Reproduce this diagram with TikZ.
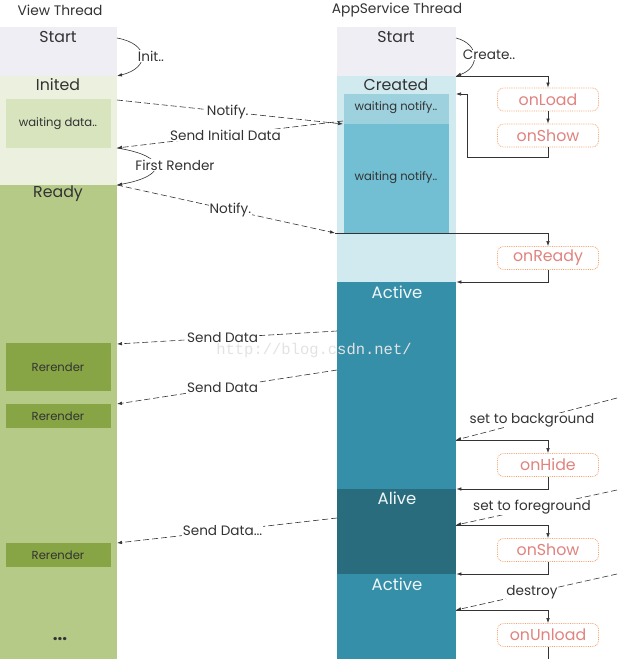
\documentclass[tikz,border=0pt]{standalone}
\usepackage{fontspec}
\setmainfont{Poppins}
\newfontfamily\wmfont{Liberation Mono}
\usetikzlibrary{arrows.meta}
\definecolor{cstart}{HTML}{EFEEF4}
\definecolor{cinited}{HTML}{EBF1DE}
\definecolor{cwaitdata}{HTML}{D7E4BD}
\definecolor{cready}{HTML}{B6CA88}
\definecolor{crerender}{HTML}{87A544}
\definecolor{ccreated}{HTML}{D1EAF0}
\definecolor{cwnA}{HTML}{9DD1DD}
\definecolor{cwnB}{HTML}{72BED2}
\definecolor{cactive}{HTML}{368FA8}
\definecolor{calive}{HTML}{296C7D}
\definecolor{cbord}{HTML}{F3A36C}
\definecolor{cbtext}{HTML}{E0837F}
\definecolor{cline}{HTML}{333333}
\definecolor{ctext}{HTML}{333333}
\begin{document}
\begin{tikzpicture}[x=1pt,y=-1pt,
  region/.style={draw=none,inner sep=0pt,anchor=north west},
  title/.style={text=ctext,font=\fontsize{13.8}{15}\selectfont},
  big/.style={text=ctext,font=\fontsize{15.8}{17}\selectfont},
  wbig/.style={text=white!92!cactive,font=\fontsize{16.5}{18}\selectfont},
  small/.style={text=ctext,font=\fontsize{11.6}{13}\selectfont},
  lbl/.style={text=ctext,font=\fontsize{13.6}{15}\selectfont,inner sep=0.5pt},
  wlbl/.style={lbl,fill=white},
  cb/.style={draw=cbord,densely dotted,line width=0.8pt,rounded corners=6pt,fill=white,
     minimum width=101pt,minimum height=23pt,inner sep=0pt,text=cbtext,font=\fontsize{15.8}{17}\selectfont},
  arr/.style={draw=cline,line width=0.6pt,-{Latex[length=5pt,width=3.5pt]}},
  ln/.style={draw=cline,line width=0.6pt},
  dsh/.style={arr,dash pattern=on 6pt off 3pt},
]
\useasboundingbox (0,0) rectangle (624,659);
\fill[white] (0,0) rectangle (624,659);

% ---- left column (View Thread)
\node[region,fill=cstart,minimum width=117pt,minimum height=49pt] (vstart) at (0,27) {};
\node[region,fill=cinited,minimum width=117pt,minimum height=109pt] (vinited) at (0,76) {};
\node[region,fill=cready,minimum width=117pt,minimum height=474pt] (vready) at (0,185) {};
\node[region,fill=cwaitdata,minimum width=105pt,minimum height=49pt] (vwait) at (6,99) {};
\node[region,fill=crerender,minimum width=105pt,minimum height=48pt] (rr1) at (6,343) {};
\node[region,fill=crerender,minimum width=105pt,minimum height=24pt] (rr2) at (6,404) {};
\node[region,fill=crerender,minimum width=105pt,minimum height=24pt] (rr3) at (6,543) {};

\node[title] (ttl1) at (60,10) {View Thread};
\node[big] (tstart1) at (58,37) {Start};
\node[big] (tinited) at (58,85) {Inited};
\node[small] (twait) at (58,124) {waiting data..};
\node[big] (tready) at (58,194) {Ready};
\node[small] (trr1) at (58,367) {Rerender};
\node[small] (trr2) at (58,416) {Rerender};
\node[small] (trr3) at (58,555) {Rerender};
\node[text=ctext,font=\fontsize{17}{18}\bfseries] (tdots) at (60,639) {...};

% ---- right column (AppService Thread)
\node[region,fill=cstart,minimum width=119pt,minimum height=49pt] (astart) at (337,27) {};
\node[region,fill=ccreated,minimum width=119pt,minimum height=206pt] (created) at (337,76) {};
\node[region,fill=cwnA,minimum width=105pt,minimum height=30pt] (wn1) at (344,94) {};
\node[region,fill=cwnB,minimum width=105pt,minimum height=109pt] (wn2) at (344,124) {};
\node[region,fill=cactive,minimum width=119pt,minimum height=208pt] (active) at (337,282) {};
\node[region,fill=calive,minimum width=119pt,minimum height=85pt] (alive) at (337,489) {};
\node[region,fill=cactive,minimum width=119pt,minimum height=86pt] (active2) at (337,574) {};

\node[title] (ttl2) at (397,10) {AppService Thread};
\node[big] (tstart2) at (396,37) {Start};
\node[big] (tcreated) at (396,85) {Created};
\node[small] (twn1) at (396,108) {waiting notify..};
\node[small] (twn2) at (396,178) {waiting notify..};
\node[wbig] (tactive) at (397,292) {Active};
\node[wbig] (talive) at (397,498) {Alive};
\node[wbig] (tactive2) at (397,584) {Active};

% ---- lifecycle callbacks
\node[cb] (onload) at (548,99.5) {onLoad};
\node[cb] (onshow) at (548,135.5) {onShow};
\node[cb] (onready) at (548,258) {onReady};
\node[cb] (onhide) at (548,465) {onHide};
\node[cb] (onshow2) at (548,550) {onShow};
\node[cb] (onunload) at (548,635) {onUnload};

% ---- watermark
\node[text=gray!22,font=\wmfont\fontsize{15.5}{17}\selectfont] (wm) at (314,350) {http://blog.csdn.net/};

% ---- coordinates for connector ends
\coordinate (vS1) at (117,38);
\coordinate (vI1) at (117,76);
\coordinate (vN1) at (117,100);
\coordinate (vD1) at (117,148);
\coordinate (vR1) at (117,185);
\coordinate (aN1) at (343,124);
\coordinate (aD1) at (343,121);
\coordinate (aN2) at (335,233);
\coordinate (aS1) at (456,38);
\coordinate (aC1) at (456,76);
\coordinate (aRet) at (456,94);
\coordinate (aRetX) at (467,94);
\coordinate (sd1a) at (337,331);
\coordinate (sd1b) at (117,344);
\coordinate (sd2a) at (337,370);
\coordinate (sd2b) at (117,404);
\coordinate (sd3a) at (337,518);
\coordinate (sd3b) at (117,543);
\coordinate (bgA) at (617,398);
\coordinate (bgB) at (456,440);
\coordinate (fgA) at (617,490);
\coordinate (fgB) at (456,525);
\coordinate (dsA) at (617,574);
\coordinate (dsB) at (456,610);
\coordinate (uEnd) at (456,662);

% ---- left side transitions
\draw[arr] (vS1) .. controls (150,44) and (150,68) .. (vI1);
\node[wlbl] (linit) at (151,56) {Init..};
\draw[arr] (vD1) .. controls (168,156) and (168,176) .. (vR1);
\node[wlbl] (lfirst) at (175,165) {First Render};

\draw[dsh] (vN1) -- (aN1) node[wlbl,pos=0.49] (lnot1) {Notify.};
\draw[dsh] (aD1) -- (vD1) node[wlbl,pos=0.52] (lsid) {Send Initial Data};
\draw[dsh] (vR1) -- (aN2) node[wlbl,pos=0.52] (lnot2) {Notify.};

\draw[dsh] (sd1a) -- (sd1b) node[wlbl,pos=0.52] (lsd1) {Send Data};
\draw[dsh] (sd2a) -- (sd2b) node[wlbl,pos=0.52] (lsd2) {Send Data};
\draw[dsh] (sd3a) -- (sd3b) node[wlbl,pos=0.52] (lsd3) {Send Data...};

% ---- right side transitions
\draw[arr] (aS1) .. controls (480,44) and (480,68) .. (aC1);
\node[wlbl] (lcreate) at (489,55) {Create..};
\draw[arr] (aC1) -| (onload.north);
\draw[arr] (onload.south) -- (onshow.north);
\draw[arr] (onshow.south) -- ++(0,10) -| (aRetX) -- (aRet);

\draw[arr] (aN2) -| (onready.north);
\draw[arr] (onready.south) |- (active.north east);

\draw[dsh] (bgA) -- (bgB);
\node[wlbl] (lbg) at (532,420) {set to background};
\draw[arr] (bgB) -| (onhide.north);
\draw[arr] (onhide.south) |- (alive.north east);

\draw[dsh] (fgA) -- (fgB);
\node[wlbl] (lfg) at (532,507) {set to foreground};
\draw[arr] (fgB) -| (onshow2.north);
\draw[arr] (onshow2.south) |- (active2.north east);

\draw[dsh] (dsA) -- (dsB);
\node[wlbl] (lds) at (532,592) {destroy};
\draw[arr] (dsB) -| (onunload.north);
\draw[arr] (onunload.south) |- (uEnd);
\end{tikzpicture}
\end{document}
